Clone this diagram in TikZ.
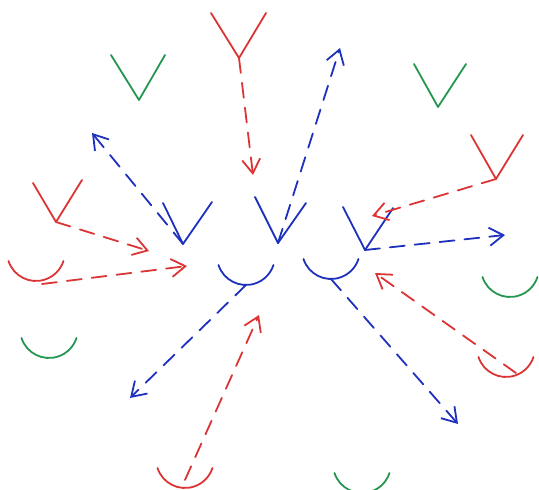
\documentclass[tikz,border=0pt]{standalone}
\usetikzlibrary{arrows.meta,calc}
\definecolor{pred}{RGB}{220,52,52}
\definecolor{pblue}{RGB}{30,48,190}
\definecolor{pgreen}{RGB}{36,150,80}
\tikzset{
  pen/.style={line width=1.8pt,line cap=round,line join=round},
  dasharrow/.style={pen,dash pattern=on 15pt off 10pt,-{Straight Barb[length=14pt,width=18pt,line width=1.8pt]}},
}
\newcommand{\cupshape}[2]{\draw[pen,#2] ($(#1)+(-27.5,-20)$) arc[start angle=198,end angle=342,radius=28.9pt];}
\begin{document}
\begin{tikzpicture}[x=1pt,y=-1pt]
\useasboundingbox (0,0) rectangle (539,490);
% green shapes
\coordinate (gV1) at (139,100);
\coordinate (gV2) at (438,107);
\coordinate (gC1) at (49,358);
\coordinate (gC2) at (510,297);
\coordinate (gC3) at (362,493);
\draw[pen,pgreen] (111,55) -- (gV1) -- (165,55);
\draw[pen,pgreen] (414,64) -- (gV2) -- (466,64);
\cupshape{gC1}{pgreen}
\cupshape{gC2}{pgreen}
\cupshape{gC3}{pgreen}
% red shapes
\coordinate (rT) at (239,58);
\coordinate (rL) at (56,222);
\coordinate (rR) at (496,179);
\coordinate (rcL) at (36,281);
\coordinate (rcB) at (185,488);
\coordinate (rcR) at (506,377);
\draw[pen,pred] (211,13) -- (rT) -- (266,13);
\draw[pen,pred] (33,183) -- (rL) -- (82,180);
\draw[pen,pred] (471,135) -- (rR) -- (523,135);
\cupshape{rcL}{pred}
\cupshape{rcB}{pred}
\cupshape{rcR}{pred}
% blue shapes
\coordinate (bV1) at (183,244);
\coordinate (bV2) at (278,243);
\coordinate (bV3) at (365,250);
\coordinate (bC1) at (246,285);
\coordinate (bC2) at (331,279);
\draw[pen,pblue] (163,203) -- (bV1) -- (212,202);
\draw[pen,pblue] (255,197) -- (bV2) -- (306,203);
\draw[pen,pblue] (343,207) -- (bV3) -- (393,208);
\cupshape{bC1}{pblue}
\cupshape{bC2}{pblue}
% free ends of arrows
\coordinate (tA) at (253,175);
\coordinate (tB) at (149,251);
\coordinate (tC) at (372,216);
\coordinate (tD) at (187,266);
\coordinate (tE) at (259,315);
\coordinate (tF) at (375,273);
\coordinate (tG) at (92,133);
\coordinate (tH) at (340,48);
\coordinate (tI) at (505,235);
\coordinate (tJ) at (130,398);
\coordinate (tK) at (458,424);
% red arrows
\draw[dasharrow,pred] (rT) -- (tA);
\draw[dasharrow,pred] (rL) -- (tB);
\draw[dasharrow,pred] (rR) -- (tC);
\draw[dasharrow,pred] ($(rcL)+(6,3)$) -- (tD);
\draw[dasharrow,pred] ($(rcB)+(0,-8)$) -- (tE);
\draw[dasharrow,pred] ($(rcR)+(10,-4)$) -- (tF);
% blue arrows
\draw[dasharrow,pblue] (bV1) -- (tG);
\draw[dasharrow,pblue] (bV2) -- (tH);
\draw[dasharrow,pblue] (bV3) -- (tI);
\draw[dasharrow,pblue] (bC1) -- (tJ);
\draw[dasharrow,pblue] (bC2) -- (tK);
\end{tikzpicture}
\end{document}
